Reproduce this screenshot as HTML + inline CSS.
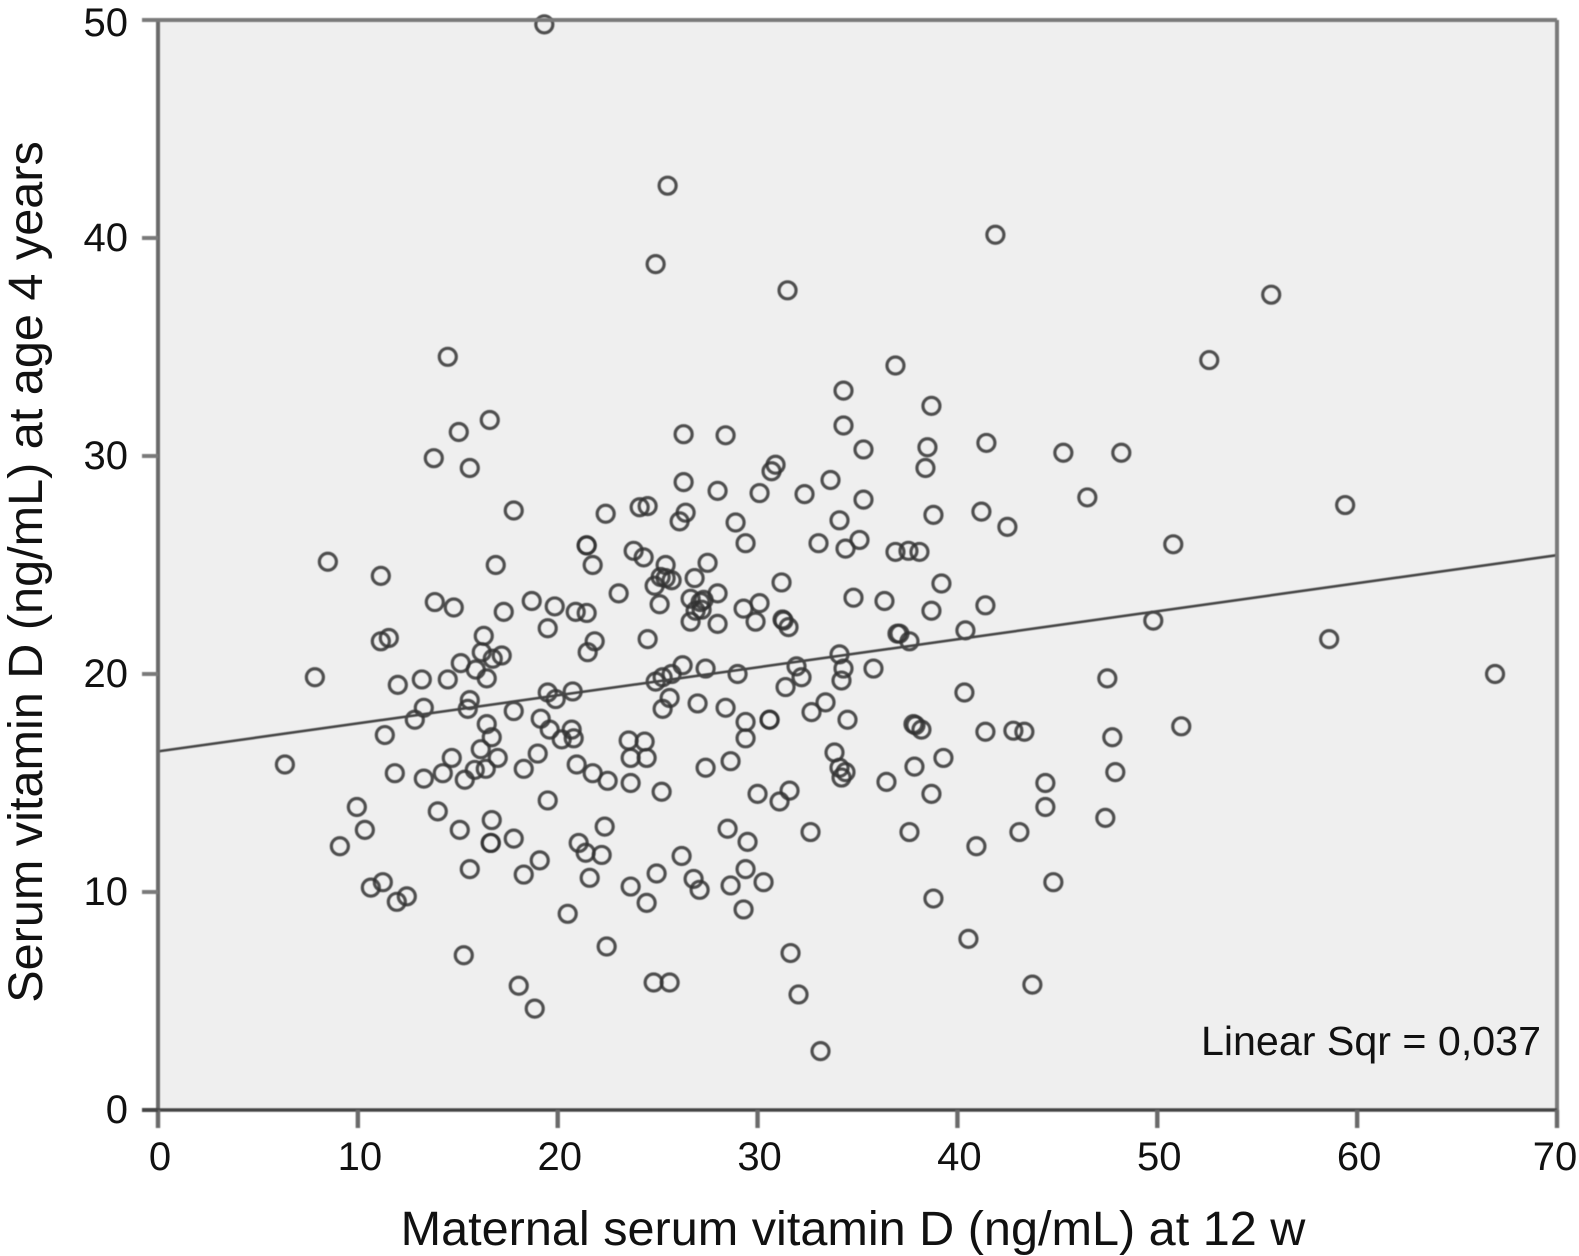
<!DOCTYPE html>
<html>
<head>
<meta charset="utf-8">
<title>Serum vitamin D scatter</title>
<style>
html,body{margin:0;padding:0;background:#fff;}
svg{display:block;font-family:"Liberation Sans",sans-serif;}
</style>
</head>
<body>
<svg id="chart" width="1579" height="1256" viewBox="0 0 1579 1256" xmlns="http://www.w3.org/2000/svg">
<defs><filter id="soft" x="-5%" y="-5%" width="110%" height="110%"><feGaussianBlur stdDeviation="0.6"/></filter></defs>
<rect x="159" y="20" width="1398" height="1090" fill="#efefef"/>
<g id="marks" filter="url(#soft)"></g>
<g id="axes" filter="url(#soft)"></g>
<g id="labels"></g>
<text x="853" y="1245" font-size="48.6" text-anchor="middle" fill="#111">Maternal serum vitamin D (ng/mL) at 12 w</text>
<text transform="translate(42,572) rotate(-90)" font-size="48.6" text-anchor="middle" fill="#111">Serum vitamin D (ng/mL) at age 4 years</text>
<text x="1541" y="1055" font-size="41.2" text-anchor="end" fill="#111">Linear Sqr = 0,037</text>
</svg>
<script>
const xTicks = [0, 10, 20, 30, 40, 50, 60, 70];
const yTicks = [0, 10, 20, 30, 40, 50];
const fitX = [0, 70];
const fitY = [16.45, 25.45];
const maternalValues = [
19.33,25.5,24.9,41.9,31.5,55.7,52.6,14.5,36.9,34.3,38.7,34.3,16.6,15.05,26.3,28.4,41.45,38.5,35.3,45.3,
48.2,13.8,15.6,38.4,30.9,30.7,33.65,26.3,28.0,30.1,32.35,35.3,46.5,59.4,22.4,24.1,24.5,26.4,26.1,17.8,
28.9,38.8,41.2,42.5,34.1,29.4,33.05,34.4,35.1,36.9,37.55,38.1,50.8,21.45,21.45,23.8,24.3,21.75,8.5,16.9,
11.15,27.5,25.4,25.15,25.4,25.7,24.85,26.85,31.2,39.2,28.0,26.65,27.3,27.15,23.05,25.1,34.8,36.35,13.85,14.8,
17.3,18.7,19.85,20.9,21.45,29.3,30.1,41.4,38.7,29.9,26.65,26.9,27.2,28.0,31.25,31.3,31.55,19.5,49.8,40.4,
37.0,37.1,37.6,58.6,24.5,21.85,16.3,11.15,11.55,21.5,34.1,17.2,16.75,16.2,15.15,15.9,66.9,26.25,27.4,34.3,
35.8,31.95,32.2,29.0,25.7,25.25,24.9,34.2,7.85,12.0,13.2,14.5,16.45,47.5,20.75,19.5,19.9,31.4,40.35,25.6,
15.6,33.4,13.3,15.5,17.8,25.25,27.0,28.4,32.7,12.85,34.5,19.15,29.4,30.6,30.6,37.8,37.9,38.2,16.45,19.6,
20.7,51.2,41.4,42.8,43.35,11.35,16.7,20.2,20.8,29.4,47.75,23.55,24.35,16.15,33.85,19.0,14.7,17.0,23.65,24.45,
28.65,39.3,14.25,6.35,20.95,27.4,37.85,15.85,16.4,18.3,34.1,34.4,34.2,11.85,21.75,22.5,47.9,13.3,15.35,23.65,
36.45,44.4,31.6,25.2,30.0,38.7,31.1,19.5,14.0,9.95,44.4,16.7,47.4,10.35,15.1,22.35,28.5,32.65,37.6,43.1,
17.8,16.65,16.65,9.1,21.05,29.5,40.95,21.4,22.2,26.2,19.1,15.6,29.4,18.3,24.95,21.6,26.8,44.8,11.25,10.65,
23.65,30.3,28.65,27.1,12.45,11.95,38.8,24.45,29.3,20.5,40.55,22.45,15.3,31.65,18.05,24.8,25.6,43.75,32.05,18.85,
33.15
];
const childValues = [
49.8,42.4,38.8,40.15,37.6,37.4,34.4,34.55,34.15,33.0,32.3,31.4,31.65,31.1,31.0,30.95,30.6,30.4,30.3,30.15,
30.15,29.9,29.45,29.45,29.6,29.3,28.9,28.8,28.4,28.3,28.25,28.0,28.1,27.75,27.35,27.65,27.7,27.4,27.0,27.5,
26.95,27.3,27.45,26.75,27.05,26.0,26.0,25.75,26.15,25.6,25.65,25.6,25.95,25.9,25.9,25.65,25.35,25.0,25.15,25.0,
24.5,25.1,25.0,24.45,24.4,24.3,24.05,24.4,24.2,24.15,23.7,23.45,23.4,23.3,23.7,23.2,23.5,23.35,23.3,23.05,
22.85,23.35,23.1,22.85,22.8,23.0,23.25,23.15,22.9,22.4,22.4,22.9,22.95,22.3,22.5,22.45,22.15,22.1,22.45,22.0,
21.85,21.85,21.5,21.6,21.6,21.5,21.75,21.5,21.65,21.0,20.9,20.85,20.7,21.0,20.5,20.2,20.0,20.4,20.25,20.25,
20.25,20.35,19.85,20.0,20.0,19.85,19.65,19.7,19.85,19.5,19.75,19.75,19.8,19.8,19.2,19.15,18.85,19.4,19.15,18.9,
18.8,18.7,18.45,18.4,18.3,18.4,18.65,18.45,18.25,17.9,17.9,17.95,17.8,17.9,17.9,17.7,17.65,17.45,17.7,17.45,
17.45,17.6,17.35,17.4,17.35,17.2,17.1,17.0,17.05,17.05,17.1,16.95,16.9,16.55,16.4,16.35,16.15,16.15,16.15,16.15,
16.0,16.15,15.45,15.85,15.85,15.7,15.75,15.6,15.65,15.65,15.7,15.5,15.25,15.45,15.45,15.1,15.5,15.2,15.15,15.0,
15.05,15.0,14.65,14.6,14.5,14.5,14.15,14.2,13.7,13.9,13.9,13.3,13.4,12.85,12.85,13.0,12.9,12.75,12.75,12.75,
12.45,12.25,12.25,12.1,12.25,12.3,12.1,11.8,11.7,11.65,11.45,11.05,11.05,10.8,10.85,10.65,10.6,10.45,10.45,10.2,
10.25,10.45,10.3,10.1,9.8,9.55,9.7,9.5,9.2,9.0,7.85,7.5,7.1,7.2,5.7,5.85,5.85,5.75,5.3,4.65,
2.7
];

const NS = 'http://www.w3.org/2000/svg';
const plotLeft = 158, plotRight = 1557, plotTop = 20, plotBottom = 1110;
const xMin = 0, xMax = 70, yMin = 0, yMax = 50;
function sx(v) { return plotLeft + (v - xMin) / (xMax - xMin) * (plotRight - plotLeft); }
function sy(v) { return plotBottom - (v - yMin) / (yMax - yMin) * (plotBottom - plotTop); }
function make(tag, attrs, parent) {
  const el = document.createElementNS(NS, tag);
  for (const k in attrs) el.setAttribute(k, attrs[k]);
  parent.appendChild(el);
  return el;
}
const marks = document.getElementById('marks');
const axes = document.getElementById('axes');
const labels = document.getElementById('labels');

maternalValues.forEach(function (v, i) {
  const c = make('circle', {cx: sx(v), cy: sy(childValues[i]), r: 8.5, fill: 'none', stroke: '#333', 'stroke-width': 3.2, 'stroke-opacity': 0.85}, marks);
  
  
});

const fit = make('line', {x1: sx(fitX[0]), y1: sy(fitY[0]), x2: sx(fitX[1]), y2: sy(fitY[1]), stroke: '#444', 'stroke-width': 2.6}, marks);



const leftAxis = make('line', {x1: plotLeft, y1: plotTop, x2: plotLeft, y2: plotBottom, stroke: '#6a6a6a', 'stroke-width': 4}, axes);


const rightAxis = make('line', {x1: plotRight, y1: plotTop, x2: plotRight, y2: plotBottom, stroke: '#7a7a7a', 'stroke-width': 4}, axes);


const topAxis = make('line', {x1: plotLeft, y1: plotTop, x2: plotRight, y2: plotTop, stroke: '#7a7a7a', 'stroke-width': 4}, axes);


const bottomAxis = make('line', {x1: plotLeft, y1: plotBottom, x2: plotRight, y2: plotBottom, stroke: '#444', 'stroke-width': 3.6}, axes);



xTicks.forEach(function (t) {
  const tick = make('line', {x1: sx(t), y1: plotBottom, x2: sx(t), y2: plotBottom + 18, stroke: '#6a6a6a', 'stroke-width': 4.4}, axes);
  
  
  const anchorX = t === xMax ? sx(t) - 2 : sx(t) + 2;
  const label = make('text', {x: anchorX, y: 1170, 'font-size': 40, 'text-anchor': 'middle', fill: '#111'}, labels);
  label.textContent = String(t);
  
  
});

yTicks.forEach(function (t) {
  const tick = make('line', {x1: plotLeft - 16, y1: sy(t), x2: plotLeft, y2: sy(t), stroke: t === yMin ? '#444' : '#7a7a7a', 'stroke-width': 4}, axes);
  
  
  const label = make('text', {x: 128, y: sy(t) + (t === yMax ? 16 : 13), 'font-size': 40, 'text-anchor': 'end', fill: '#111'}, labels);
  label.textContent = String(t);
  
  
});
</script>
</body>
</html>
